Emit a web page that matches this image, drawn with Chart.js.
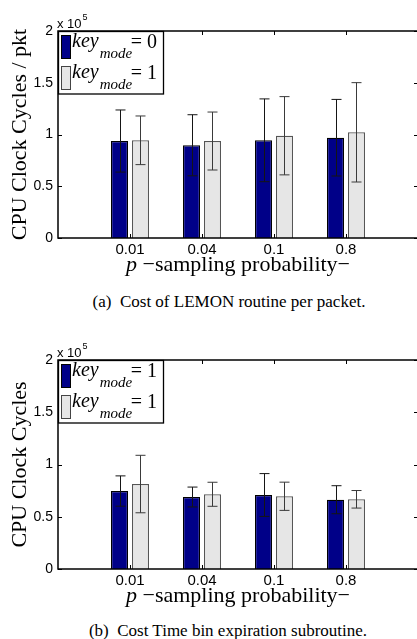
<!DOCTYPE html>
<html>
<head>
<meta charset="utf-8">
<script src="https://cdn.jsdelivr.net/npm/chart.js@4/dist/chart.umd.min.js"></script>
<style>
  html, body { margin: 0; padding: 0; background: #fff; overflow: hidden; }
  body { width: 417px; height: 639px; position: relative; }
  .panel { position: absolute; left: 0; width: 417px; overflow: hidden; }
  .panel canvas { display: block; }
  .cap { position: absolute; font: 17px "Liberation Serif", serif; line-height: 17px;
         white-space: pre; transform: translateX(-50%); color: #000; }
</style>
</head>
<body>
<div class="panel" style="top:0;height:285px"><canvas id="chartA" width="422" height="285"></canvas></div>
<div class="cap" style="left:229px;top:293px">(a)  Cost of LEMON routine per packet.</div>
<div class="panel" style="top:329px;height:287px"><canvas id="chartB" width="422" height="287"></canvas></div>
<div class="cap" style="left:228px;top:622px">(b)  Cost Time bin expiration subroutine.</div>

<script>
// sampling probability p (x-kategorier)
const probs = ["0.01", "0.04", "0.1", "0.8"];
const yTicks = [0, 0.5, 1, 1.5, 2];   // i enheter av 10^5

// (a) LEMON-rutine per pakke, x10^5 klokkesykler
const lemonMode0 = [0.937, 0.896, 0.944, 0.969];
const lemonMode0Err = [0.30, 0.295, 0.40, 0.37];
const lemonMode1 = [0.944, 0.937, 0.988, 1.021];
const lemonMode1Err = [0.235, 0.28, 0.378, 0.48];

// (b) time bin expiration, x10^5 klokkesykler
const binMode0 = [0.746, 0.689, 0.708, 0.663];
const binMode0Err = [0.145, 0.095, 0.205, 0.134];
const binMode1 = [0.813, 0.715, 0.696, 0.667];
const binMode1Err = [0.275, 0.115, 0.135, 0.084];

const BLUE = "#000088";
const GREY = "#e6e6e6";

// tomme kategorier i hver ende gir xlim [0 5] som i MATLAB
const labels = ["", ...probs, ""];
const pad = (a) => [null, ...a, null];

// feilstolper tegnes over søylene
const errorBars = {
  id: "errorBars",
  afterDatasetsDraw(chart) {
    const ctx = chart.ctx, y = chart.scales.y;
    chart.data.datasets.forEach((ds, i) => {
      chart.getDatasetMeta(i).data.forEach((bar, j) => {
        const v = ds.data[j];
        if (v == null) return;
        const t = y.getPixelForValue(v + ds.errors[j]);
        const b = y.getPixelForValue(v - ds.errors[j]);
        const x = Math.round(bar.x) + 0.5;
        ctx.save();
        ctx.strokeStyle = ds.errColor;
        ctx.lineWidth = 1;
        ctx.beginPath();
        ctx.moveTo(x, t); ctx.lineTo(x, b);
        ctx.moveTo(x - 5, t); ctx.lineTo(x + 5, t);
        ctx.moveTo(x - 5, b); ctx.lineTo(x + 5, b);
        ctx.stroke();
        ctx.restore();
      });
    });
  },
};

// ramme, innovervendte tikker, x10^5, legende og x-tittel
const matlabAxes = {
  id: "matlabAxes",
  afterDraw(chart, args, opts) {
    const ctx = chart.ctx;
    const { left, right, top, bottom } = chart.chartArea;
    const x = chart.scales.x, y = chart.scales.y;
    ctx.save();
    ctx.strokeStyle = "#000";
    ctx.lineWidth = 1;
    ctx.beginPath();
    probs.forEach((p, i) => {
      const px = Math.round(x.getPixelForValue(i + 1)) + 0.5;
      ctx.moveTo(px, top); ctx.lineTo(px, top + 4);
      ctx.moveTo(px, bottom); ctx.lineTo(px, bottom - 4);
    });
    yTicks.forEach((v) => {
      const py = Math.round(y.getPixelForValue(v)) + 0.5;
      ctx.moveTo(left, py); ctx.lineTo(left + 4, py);
      ctx.moveTo(right, py); ctx.lineTo(right - 4, py);
    });
    ctx.stroke();
    ctx.lineWidth = 1.5;
    ctx.strokeRect(left, top, right - left, bottom - top);

    // x 10^5
    ctx.fillStyle = "#000";
    ctx.textAlign = "left";
    ctx.textBaseline = "alphabetic";
    ctx.font = '13px "Liberation Sans"';
    ctx.fillText("x 10", left - 1, top - 3.5);
    const w = ctx.measureText("x 10").width;
    ctx.font = '9px "Liberation Sans"';
    ctx.fillText("5", left + w, top - 11);

    // legende
    const bx = left + 0.5, by = top + 0.5;
    ctx.fillStyle = "#fff";
    ctx.fillRect(bx, by, 105, 62.5);
    ctx.lineWidth = 1.3;
    ctx.strokeRect(bx, by, 105, 62.5);
    opts.entries.forEach((text, k) => {
      const row = top + 4 + k * 31;
      ctx.fillStyle = k === 0 ? BLUE : GREY;
      ctx.fillRect(left + 3, row, 10, 24);
      ctx.strokeStyle = k === 0 ? "#000" : "#444";
      ctx.lineWidth = 1;
      ctx.strokeRect(left + 3.5, row + 0.5, 9, 23);
      ctx.fillStyle = "#000";
      ctx.textAlign = "left";
      ctx.font = 'italic 20px "Liberation Serif"';
      ctx.fillText("key", left + 14, row + 12);
      const kw = ctx.measureText("key").width;
      ctx.font = 'italic 15px "Liberation Serif"';
      ctx.fillText("mode", left + 15 + kw, row + 22.5);
      ctx.font = '20px "Liberation Serif"';
      ctx.textAlign = "right";
      ctx.fillText(text, left + 99, row + 13);
    });

    // x-aksetittel med kursiv p
    ctx.textAlign = "left";
    ctx.font = 'italic 22px "Liberation Serif"';
    const pw = ctx.measureText("p").width;
    const rest = " \u2212sampling probability\u2212";
    ctx.font = '22px "Liberation Serif"';
    const rw = ctx.measureText(rest).width;
    const sx = (left + right) / 2 - (pw + rw) / 2;
    ctx.fillText(rest, sx + pw, bottom + 33);
    ctx.font = 'italic 22px "Liberation Serif"';
    ctx.fillText("p", sx, bottom + 33);
    ctx.restore();
  },
};

function makeChart(id, yTitle, s0, e0, s1, e1, entries) {
  return new Chart(document.getElementById(id), {
    type: "bar",
    data: {
      labels,
      datasets: [
        { label: "mode0", data: pad(s0), errors: pad(e0), errColor: "#151515",
          backgroundColor: BLUE, borderColor: "#000", borderWidth: 1.2,
          barPercentage: 0.81, categoryPercentage: 0.583 },
        { label: "mode1", data: pad(s1), errors: pad(e1), errColor: "#3a3a3a",
          backgroundColor: GREY, borderColor: "#555", borderWidth: 1.2,
          barPercentage: 0.81, categoryPercentage: 0.583 },
      ],
    },
    options: {
      responsive: false, animation: false, events: [],
      layout: { padding: { top: 31, right: 4, left: 0, bottom: 0 } },
      plugins: { legend: { display: false }, tooltip: { enabled: false }, matlabAxes: { entries } },
      scales: {
        x: {
          type: "category", offset: false,
          grid: { display: false, drawTicks: false }, border: { display: false },
          ticks: { color: "#000", font: { family: "Liberation Sans", size: 15 }, padding: 3,
                   autoSkip: false, maxRotation: 0 },
          afterFit: (s) => { s.height = 47; },
        },
        y: {
          min: 0, max: 2,
          grid: { display: false, drawTicks: false }, border: { display: false },
          ticks: { stepSize: 0.5, color: "#000", font: { family: "Liberation Sans", size: 14 }, padding: 5,
                   callback: (v) => String(v) },
          title: { display: true, text: yTitle, color: "#000",
                   font: { family: "Liberation Serif", size: 22 }, padding: { top: 7, bottom: 0 } },
          afterFit: (s) => { s.width = 58; },
        },
      },
    },
    plugins: [errorBars, matlabAxes],
  });
}

makeChart("chartA", "CPU Clock Cycles / pkt", lemonMode0, lemonMode0Err, lemonMode1, lemonMode1Err, ["= 0", "= 1"]);
makeChart("chartB", "CPU Clock Cycles", binMode0, binMode0Err, binMode1, binMode1Err, ["= 1", "= 1"]);
</script>
</body>
</html>
